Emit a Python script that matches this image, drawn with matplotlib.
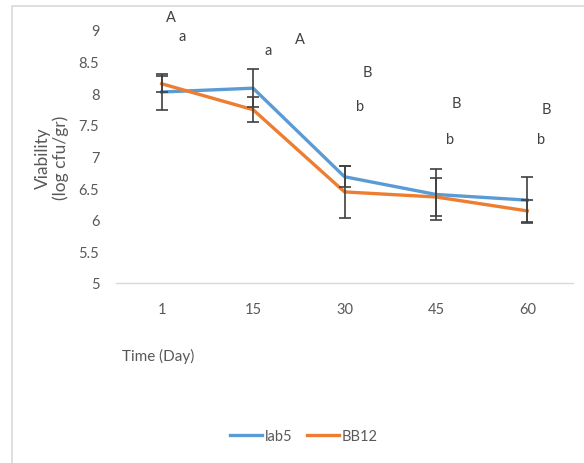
import matplotlib
matplotlib.use("Agg")
import matplotlib.pyplot as plt
from matplotlib.patches import Rectangle
import numpy as np

plt.rcParams['font.family'] = ['Lato', 'DejaVu Sans']

days = ["1", "15", "30", "45", "60"]
lab5 = [8.02, 8.08, 6.68, 6.40, 6.31]
bb12 = [8.15, 7.74, 6.44, 6.36, 6.14]
lab5_err = [0.28, 0.30, 0.17, 0.41, 0.36]
bb12_err = [0.13, 0.20, 0.41, 0.30, 0.17]

# significance letters: (label, x in category units, y in data units)
letters = [
    ("A", 0.10, 9.20), ("a", 0.22, 8.90),
    ("a", 1.17, 8.68), ("A", 1.51, 8.86),
    ("B", 2.25, 8.33), ("b", 2.17, 7.80),
    ("B", 3.22, 7.84), ("b", 3.15, 7.27),
    ("B", 4.21, 7.75), ("b", 4.15, 7.27),
]

blue = "#5B9BD5"
orange = "#ED7D31"
text_col = "#595959"

fig = plt.figure(figsize=(5.84, 4.64), dpi=100)
fig.patches.append(Rectangle((12 / 584, -0.05), 1.1, 1 - 7 / 464 + 0.05,
                             transform=fig.transFigure, fill=False,
                             edgecolor="#D9D9D9", linewidth=1.2))

ax = fig.add_axes([116 / 584, 1 - 284 / 464, (573 - 116) / 584, (284 - 31) / 464])
x = np.arange(len(days))

ax.plot(x, lab5, color=blue, lw=2.4, label="lab5", zorder=3)
ax.plot(x, bb12, color=orange, lw=2.4, label="BB12", zorder=3)
ax.errorbar(x, lab5, yerr=lab5_err, fmt="none", ecolor="#404040",
            elinewidth=1.2, capsize=4, capthick=1.2, zorder=4)
ax.errorbar(x, bb12, yerr=bb12_err, fmt="none", ecolor="#404040",
            elinewidth=1.2, capsize=4, capthick=1.2, zorder=4)

for lab, lx, ly in letters:
    ax.text(lx, ly, lab, ha="center", va="center", fontsize=10.5,
            color="#404040", clip_on=False)

ax.set_xlim(-0.5, len(days) - 0.5)
ax.set_ylim(5, 9)
ax.set_yticks(np.arange(5, 9.01, 0.5))
ax.set_yticklabels([f"{v:g}" for v in np.arange(5, 9.01, 0.5)])
ax.set_xticks(x)
ax.set_xticklabels(days)
ax.tick_params(axis="both", length=0, labelsize=10.5, colors=text_col)
ax.tick_params(axis="x", pad=14)
ax.tick_params(axis="y", pad=12)
for s in ["top", "right", "left"]:
    ax.spines[s].set_visible(False)
ax.spines["bottom"].set_color("#D9D9D9")
ax.spines["bottom"].set_linewidth(1)

fig.text(52 / 584, 1 - 158 / 464, "Viability\n(log cfu/gr)", rotation=90,
         ha="center", va="center", fontsize=12.5, color=text_col,
         linespacing=1.15)
fig.text(122 / 584, 1 - 356 / 464, "Time (Day)", ha="left", va="center",
         fontsize=11, color=text_col)

fig.legend(loc="center", bbox_to_anchor=(304 / 584, 1 - 437 / 464), ncol=2,
           frameon=False, fontsize=10.5, handlelength=2.2, columnspacing=1.0,
           handletextpad=0.2, labelcolor=text_col)

fig.savefig("out.png", dpi=100, facecolor="white")
